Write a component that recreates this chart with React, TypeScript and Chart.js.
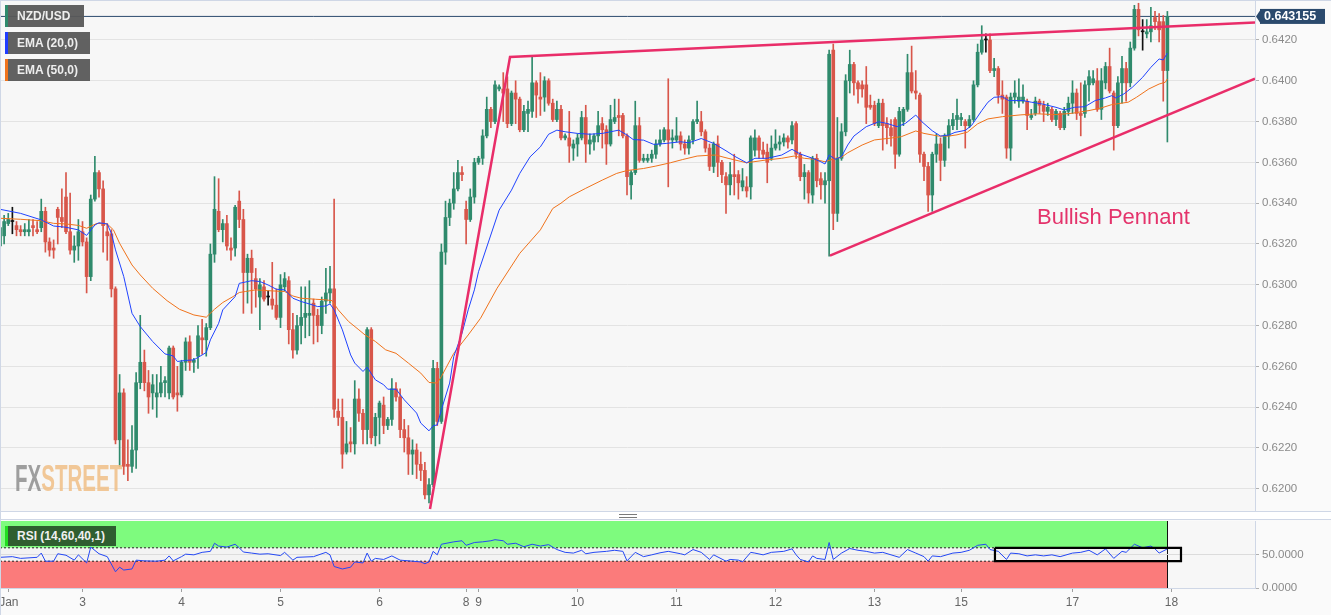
import React, { useEffect, useRef } from "react";
import { Chart, registerables } from "chart.js";

Chart.register(...registerables);

// ---------- candle data (hourly NZD/USD) ----------
const candleOpen = [
  0.6319,0.6324,0.6330,0.6331,0.6329,0.6327,0.6326,0.6326,0.6329,0.6327,
  0.6328,0.6336,0.6321,0.6318,0.6337,0.6333,0.6343,0.6326,0.6317,0.6319,
  0.6326,0.6321,0.6304,0.6342,0.6355,0.6347,0.6326,0.6325,0.6298,0.6224,
  0.6247,0.6212,0.6211,0.6219,0.6252,0.6262,0.6252,0.6247,0.6245,0.6247,
  0.6252,0.6247,0.6269,0.6247,0.6246,0.6262,0.6272,0.6262,0.6265,0.6274,
  0.6273,0.6279,0.6315,0.6336,0.6327,0.6330,0.6318,0.6318,0.6341,0.6332,
  0.6306,0.6313,0.6303,0.6294,0.6299,0.6294,0.6293,0.6290,0.6284,0.6299,
  0.6302,0.6278,0.6268,0.6280,0.6284,0.6285,0.6291,0.6285,0.6280,0.6292,
  0.6296,0.6298,0.6238,0.6235,0.6218,0.6223,0.6222,0.6244,0.6237,0.6229,
  0.6278,0.6226,0.6235,0.6241,0.6231,0.6234,0.6249,0.6245,0.6229,0.6225,
  0.6217,0.6219,0.6212,0.6209,0.6197,0.6202,0.6259,0.6233,0.6316,0.6333,
  0.6340,0.6347,0.6355,0.6337,0.6332,0.6343,0.6360,0.6362,0.6373,0.6386,
  0.6380,0.6396,0.6396,0.6396,0.6379,0.6394,0.6391,0.6376,0.6384,0.6385,
  0.6399,0.6392,0.6392,0.6400,0.6389,0.6381,0.6386,0.6372,0.6372,0.6367,
  0.6369,0.6372,0.6382,0.6369,0.6370,0.6373,0.6379,0.6376,0.6369,0.6380,
  0.6383,0.6383,0.6373,0.6349,0.6355,0.6378,0.6361,0.6361,0.6362,0.6364,
  0.6369,0.6371,0.6376,0.6371,0.6371,0.6373,0.6369,0.6367,0.6371,0.6380,
  0.6380,0.6375,0.6367,0.6358,0.6369,0.6360,0.6353,0.6349,0.6354,0.6354,
  0.6348,0.6348,0.6348,0.6366,0.6372,0.6366,0.6365,0.6362,0.6367,0.6369,
  0.6370,0.6372,0.6371,0.6379,0.6364,0.6353,0.6355,0.6344,0.6362,0.6352,
  0.6349,0.6351,0.6415,0.6335,0.6362,0.6375,0.6400,0.6408,0.6399,0.6398,
  0.6398,0.6388,0.6388,0.6378,0.6389,0.6379,0.6377,0.6381,0.6364,0.6380,
  0.6386,0.6404,0.6395,0.6393,0.6364,0.6358,0.6344,0.6364,0.6369,0.6361,
  0.6373,0.6378,0.6381,0.6381,0.6380,0.6378,0.6381,0.6398,0.6414,0.6420,
  0.6420,0.6405,0.6406,0.6393,0.6392,0.6367,0.6392,0.6390,0.6390,0.6390,
  0.6382,0.6384,0.6390,0.6388,0.6385,0.6386,0.6381,0.6384,0.6377,0.6385,
  0.6389,0.6394,0.6384,0.6384,0.6398,0.6399,0.6400,0.6386,0.6399,0.6407,
  0.6394,0.6378,0.6399,0.6406,0.6399,0.6416,0.6435,0.6424,0.6423,0.6424,
  0.6431,0.6429,0.6429,0.6405,
];
const candleHigh = [
  0.6330,0.6334,0.6335,0.6338,0.6331,0.6329,0.6330,0.6332,0.6332,0.6331,
  0.6342,0.6338,0.6323,0.6322,0.6338,0.6347,0.6355,0.6345,0.6324,0.6332,
  0.6331,0.6323,0.6344,0.6363,0.6356,0.6351,0.6330,0.6327,0.6299,0.6256,
  0.6249,0.6224,0.6231,0.6257,0.6285,0.6268,0.6258,0.6256,0.6256,0.6260,
  0.6255,0.6270,0.6270,0.6260,0.6263,0.6274,0.6275,0.6264,0.6280,0.6283,
  0.6281,0.6320,0.6353,0.6352,0.6332,0.6334,0.6323,0.6339,0.6346,0.6337,
  0.6315,0.6317,0.6308,0.6303,0.6302,0.6297,0.6311,0.6298,0.6305,0.6306,
  0.6304,0.6286,0.6285,0.6299,0.6299,0.6302,0.6293,0.6288,0.6294,0.6308,
  0.6309,0.6342,0.6244,0.6244,0.6233,0.6230,0.6253,0.6249,0.6239,0.6279,
  0.6279,0.6237,0.6243,0.6245,0.6235,0.6254,0.6252,0.6249,0.6234,0.6231,
  0.6224,0.6222,0.6218,0.6213,0.6205,0.6263,0.6262,0.6320,0.6341,0.6342,
  0.6355,0.6361,0.6358,0.6341,0.6347,0.6362,0.6363,0.6376,0.6392,0.6387,
  0.6400,0.6398,0.6404,0.6402,0.6395,0.6400,0.6392,0.6388,0.6390,0.6412,
  0.6400,0.6404,0.6402,0.6401,0.6391,0.6390,0.6388,0.6374,0.6385,0.6371,
  0.6374,0.6385,0.6388,0.6374,0.6374,0.6385,0.6382,0.6378,0.6388,0.6391,
  0.6391,0.6384,0.6374,0.6356,0.6390,0.6382,0.6364,0.6364,0.6366,0.6371,
  0.6376,0.6377,0.6401,0.6376,0.6382,0.6375,0.6371,0.6373,0.6381,0.6390,
  0.6385,0.6376,0.6369,0.6370,0.6373,0.6361,0.6355,0.6360,0.6364,0.6356,
  0.6357,0.6353,0.6373,0.6376,0.6373,0.6370,0.6369,0.6373,0.6376,0.6373,
  0.6374,0.6373,0.6380,0.6380,0.6365,0.6359,0.6356,0.6363,0.6364,0.6355,
  0.6355,0.6415,0.6418,0.6382,0.6379,0.6403,0.6415,0.6409,0.6400,0.6400,
  0.6407,0.6393,0.6390,0.6391,0.6391,0.6382,0.6381,0.6382,0.6387,0.6387,
  0.6413,0.6417,0.6405,0.6394,0.6365,0.6360,0.6365,0.6374,0.6372,0.6374,
  0.6381,0.6384,0.6391,0.6384,0.6381,0.6383,0.6400,0.6418,0.6427,0.6423,
  0.6423,0.6411,0.6407,0.6400,0.6393,0.6394,0.6400,0.6401,0.6398,0.6391,
  0.6386,0.6392,0.6391,0.6390,0.6389,0.6387,0.6386,0.6385,0.6387,0.6392,
  0.6400,0.6396,0.6399,0.6400,0.6405,0.6405,0.6406,0.6406,0.6409,0.6416,
  0.6395,0.6402,0.6412,0.6409,0.6419,0.6437,0.6438,0.6430,0.6430,0.6436,
  0.6434,0.6433,0.6432,0.6434,
];
const candleLow = [
  0.6318,0.6320,0.6329,0.6325,0.6324,0.6324,0.6324,0.6324,0.6324,0.6325,
  0.6326,0.6316,0.6314,0.6313,0.6320,0.6328,0.6325,0.6315,0.6311,0.6312,
  0.6319,0.6296,0.6302,0.6341,0.6343,0.6316,0.6312,0.6294,0.6222,0.6211,
  0.6207,0.6204,0.6208,0.6210,0.6249,0.6248,0.6237,0.6239,0.6235,0.6245,
  0.6245,0.6244,0.6244,0.6238,0.6245,0.6258,0.6258,0.6257,0.6259,0.6266,
  0.6265,0.6278,0.6311,0.6326,0.6321,0.6317,0.6312,0.6314,0.6328,0.6286,
  0.6291,0.6286,0.6289,0.6278,0.6292,0.6290,0.6288,0.6283,0.6279,0.6297,
  0.6271,0.6264,0.6266,0.6271,0.6274,0.6275,0.6271,0.6272,0.6276,0.6286,
  0.6291,0.6235,0.6231,0.6210,0.6217,0.6218,0.6217,0.6233,0.6222,0.6222,
  0.6222,0.6221,0.6222,0.6227,0.6229,0.6231,0.6243,0.6225,0.6218,0.6207,
  0.6207,0.6205,0.6204,0.6195,0.6193,0.6201,0.6231,0.6232,0.6310,0.6329,
  0.6337,0.6346,0.6351,0.6320,0.6331,0.6340,0.6359,0.6359,0.6372,0.6377,
  0.6379,0.6395,0.6380,0.6377,0.6378,0.6379,0.6375,0.6375,0.6375,0.6382,
  0.6382,0.6383,0.6385,0.6388,0.6380,0.6380,0.6371,0.6371,0.6360,0.6361,
  0.6363,0.6371,0.6360,0.6364,0.6366,0.6370,0.6367,0.6359,0.6368,0.6379,
  0.6373,0.6372,0.6344,0.6342,0.6354,0.6360,0.6360,0.6360,0.6360,0.6362,
  0.6368,0.6370,0.6348,0.6367,0.6370,0.6366,0.6364,0.6364,0.6369,0.6379,
  0.6373,0.6365,0.6356,0.6355,0.6353,0.6350,0.6335,0.6344,0.6344,0.6342,
  0.6346,0.6343,0.6342,0.6363,0.6362,0.6362,0.6350,0.6361,0.6366,0.6366,
  0.6368,0.6367,0.6369,0.6362,0.6351,0.6342,0.6340,0.6340,0.6348,0.6342,
  0.6340,0.6314,0.6327,0.6331,0.6361,0.6373,0.6394,0.6393,0.6389,0.6392,
  0.6379,0.6386,0.6378,0.6377,0.6366,0.6369,0.6368,0.6357,0.6363,0.6378,
  0.6385,0.6394,0.6391,0.6360,0.6351,0.6336,0.6336,0.6360,0.6351,0.6358,
  0.6367,0.6376,0.6376,0.6378,0.6367,0.6377,0.6380,0.6397,0.6413,0.6414,
  0.6404,0.6402,0.6389,0.6384,0.6362,0.6361,0.6389,0.6387,0.6389,0.6376,
  0.6381,0.6383,0.6384,0.6380,0.6383,0.6380,0.6378,0.6376,0.6376,0.6383,
  0.6384,0.6381,0.6373,0.6382,0.6390,0.6398,0.6385,0.6381,0.6396,0.6394,
  0.6366,0.6377,0.6389,0.6390,0.6397,0.6415,0.6422,0.6415,0.6421,0.6419,
  0.6425,0.6419,0.6390,0.6370,
];
const candleClose = [
  0.6328,0.6331,0.6332,0.6331,0.6327,0.6326,0.6327,0.6327,0.6328,0.6326,
  0.6336,0.6321,0.6317,0.6317,0.6333,0.6331,0.6326,0.6317,0.6319,0.6326,
  0.6321,0.6304,0.6342,0.6355,0.6347,0.6329,0.6324,0.6298,0.6224,0.6247,
  0.6211,0.6211,0.6219,0.6252,0.6262,0.6252,0.6245,0.6251,0.6247,0.6252,
  0.6253,0.6269,0.6245,0.6246,0.6262,0.6272,0.6262,0.6263,0.6275,0.6273,
  0.6279,0.6315,0.6337,0.6327,0.6330,0.6319,0.6317,0.6338,0.6332,0.6306,
  0.6313,0.6306,0.6298,0.6300,0.6293,0.6294,0.6290,0.6284,0.6300,0.6303,
  0.6278,0.6268,0.6280,0.6284,0.6286,0.6286,0.6285,0.6280,0.6292,0.6296,
  0.6298,0.6239,0.6235,0.6217,0.6222,0.6222,0.6244,0.6237,0.6229,0.6278,
  0.6225,0.6235,0.6242,0.6231,0.6234,0.6249,0.6245,0.6229,0.6225,0.6217,
  0.6219,0.6212,0.6209,0.6197,0.6202,0.6259,0.6233,0.6316,0.6333,0.6340,
  0.6347,0.6355,0.6354,0.6332,0.6343,0.6360,0.6362,0.6373,0.6386,0.6380,
  0.6398,0.6397,0.6394,0.6379,0.6394,0.6391,0.6376,0.6385,0.6386,0.6399,
  0.6393,0.6391,0.6400,0.6389,0.6381,0.6386,0.6372,0.6373,0.6368,0.6369,
  0.6372,0.6382,0.6369,0.6371,0.6373,0.6378,0.6376,0.6369,0.6381,0.6382,
  0.6382,0.6373,0.6353,0.6355,0.6378,0.6361,0.6362,0.6362,0.6364,0.6369,
  0.6371,0.6376,0.6371,0.6372,0.6373,0.6369,0.6367,0.6371,0.6380,0.6381,
  0.6375,0.6367,0.6358,0.6369,0.6360,0.6354,0.6349,0.6354,0.6353,0.6350,
  0.6351,0.6346,0.6372,0.6372,0.6366,0.6364,0.6360,0.6367,0.6369,0.6370,
  0.6372,0.6370,0.6378,0.6364,0.6353,0.6355,0.6345,0.6362,0.6351,0.6349,
  0.6351,0.6413,0.6335,0.6362,0.6375,0.6400,0.6408,0.6399,0.6396,0.6396,
  0.6387,0.6387,0.6379,0.6389,0.6378,0.6377,0.6373,0.6364,0.6385,0.6386,
  0.6404,0.6395,0.6394,0.6364,0.6358,0.6344,0.6364,0.6369,0.6361,0.6373,
  0.6378,0.6381,0.6383,0.6382,0.6378,0.6381,0.6398,0.6414,0.6420,0.6420,
  0.6405,0.6406,0.6393,0.6391,0.6367,0.6392,0.6394,0.6392,0.6392,0.6383,
  0.6383,0.6390,0.6388,0.6385,0.6387,0.6381,0.6385,0.6377,0.6385,0.6389,
  0.6394,0.6384,0.6383,0.6398,0.6402,0.6401,0.6386,0.6400,0.6407,0.6395,
  0.6378,0.6399,0.6406,0.6399,0.6416,0.6435,0.6425,0.6424,0.6424,0.6427,
  0.6429,0.6425,0.6405,0.643155,
];

// ---------- moving averages (sampled) ----------
const ema20Idx = [0,5,10,13,16,19,21,23,24,26,27,28,30,32,34,37,40,42,43,45,47,50,51,53,54,57,58,61,63,65,67,69,71,73,75,77,79,80,81,83,85,86,88,89,91,93,94,96,98,101,102,104,105,106,107,109,110,112,113.5,115,116,121,124,126,128.5,131,133,135,137,140,143,146,150,152,153.5,156,158.5,161.5,165,167,170,171,173,176,178,181,183,186,189.5,192,194,197,199,200,201,202.5,204,205.5,207,210,213,215,217.5,219.5,222,223.5,226,228,230,231.5,234,235.5,238,239.5,241,243,244.5,248,250,252.5,256,258,260.5,263,265.5,268,269.5,270.5,272.5,274.5,277,279,281,282,283];
const ema20Val = [0.63370,0.63350,0.63318,0.63288,0.63282,0.63269,0.63242,0.63293,0.63304,0.63298,0.63252,0.63171,0.63040,0.62860,0.62795,0.62722,0.62661,0.62651,0.62624,0.62629,0.62632,0.62668,0.62730,0.62811,0.62877,0.62942,0.63007,0.63020,0.63016,0.62999,0.62978,0.62975,0.62934,0.62918,0.62906,0.62893,0.62896,0.62906,0.62877,0.62779,0.62656,0.62616,0.62575,0.62596,0.62534,0.62510,0.62488,0.62488,0.62436,0.62371,0.62322,0.62284,0.62309,0.62313,0.62387,0.62518,0.62648,0.62762,0.62877,0.62975,0.63064,0.63366,0.63464,0.63546,0.63627,0.63676,0.63738,0.63758,0.63750,0.63742,0.63738,0.63742,0.63758,0.63734,0.63712,0.63709,0.63688,0.63693,0.63701,0.63696,0.63717,0.63709,0.63693,0.63657,0.63631,0.63598,0.63620,0.63620,0.63636,0.63664,0.63641,0.63620,0.63603,0.63592,0.63636,0.63615,0.63628,0.63685,0.63729,0.63775,0.63799,0.63791,0.63775,0.63791,0.63832,0.63799,0.63755,0.63729,0.63734,0.63747,0.63757,0.63780,0.63854,0.63895,0.63919,0.63922,0.63903,0.63903,0.63895,0.63887,0.63870,0.63857,0.63870,0.63873,0.63903,0.63916,0.63927,0.63916,0.63936,0.63968,0.64017,0.64066,0.64107,0.64102,0.64136];
const ema50Idx = [0,5,10,13,16,19,21,23.5,26,27.5,29,32,34,37,40.5,43.5,47,50,52,54,56.5,58,59.5,62,65,69,71,73,76.5,79,80.5,82,84.5,87,88.5,91,93.5,96,99,102,104,106,107,110,113.5,116.5,120.5,126,131,134,136,138,142,146,149.5,152,156,159,162.5,165.5,169,172,173.5,176.5,181,185.5,189.5,192.5,195,197.5,200,202.5,204,205.5,209,212,215.5,218.5,222,224,227.5,230,232,234.5,237,239.5,243,247.5,251.5,256,260,264,267,269.5,273.5,275.5,278.5,281,282.5,283];
const ema50Val = [0.63326,0.63321,0.63314,0.63301,0.63298,0.63291,0.63277,0.63301,0.63298,0.63269,0.63203,0.63097,0.63048,0.62983,0.62922,0.62880,0.62852,0.62841,0.62880,0.62913,0.62942,0.62962,0.62967,0.62975,0.62971,0.62967,0.62945,0.62934,0.62929,0.62926,0.62922,0.62877,0.62820,0.62779,0.62754,0.62722,0.62681,0.62664,0.62616,0.62567,0.62521,0.62518,0.62550,0.62664,0.62754,0.62836,0.62983,0.63154,0.63269,0.63374,0.63400,0.63431,0.63473,0.63513,0.63546,0.63560,0.63570,0.63582,0.63598,0.63614,0.63631,0.63635,0.63636,0.63620,0.63598,0.63611,0.63620,0.63631,0.63620,0.63615,0.63603,0.63620,0.63625,0.63647,0.63685,0.63710,0.63718,0.63726,0.63754,0.63742,0.63729,0.63729,0.63735,0.63748,0.63789,0.63813,0.63824,0.63833,0.63838,0.63834,0.63841,0.63854,0.63867,0.63883,0.63895,0.63919,0.63960,0.63984,0.63993,0.64009];

// ---------- RSI (14) ----------
const rsiIdx = [0,3,5,9,10,11,13,14,16,18,19,21,22,24,26,28,29,30,32,33,35,38,40,41,42,44,45,47,49,51,52,53,55,57,58,59,61,63,65,68,69,71,72,76,79,80,81,83,85,86,88,89,90,91,93,95,97,100,102,103,104,105,106,107,110,112,113,115,117,119,120,122,123,125,127,129,131,133,135,137,139,141,142,144,147,149,151,152,154,156,158,160,162,165,166,168,170,172,173,176,177,179,180,182,183,185,187,190,192,193,194,196,197,198,200,201,202,204,206,208,210,212,214,216,218,220,222,224,225,226,228,231,233,235,237,239,240,242,244,245,247,249,251,253,255,257,260,262,264,266,268,270,272,273,275,277,279,280,281,283];
const rsiVal = [45.8,46.8,44.2,45.8,52.1,40.0,40.0,51.1,48.9,41.6,49.5,37.4,61.1,51.1,46.8,24.2,31.1,26.8,28.4,41.6,40.5,40.0,41.6,47.9,40.5,46.8,50.5,49.5,53.2,54.7,66.8,62.6,61.1,65.3,60.0,53.7,52.1,50.5,51.1,48.4,53.2,41.6,45.8,46.8,53.2,49.5,32.1,28.4,31.1,38.9,37.4,52.1,40.0,44.2,42.6,47.9,41.6,40.0,38.9,36.3,38.9,54.7,49.5,65.3,68.9,70.5,63.7,67.9,68.9,70.5,72.1,70.5,65.3,66.8,61.6,65.3,62.6,64.7,57.4,53.2,52.1,56.3,51.1,53.2,54.7,56.3,54.7,40.5,53.2,46.8,49.5,52.5,54.7,51.1,49.5,57.4,53.2,42.6,49.5,40.0,42.6,41.6,38.9,53.2,52.1,49.5,53.2,54.7,58.4,49.5,42.6,38.9,47.9,44.2,42.6,67.9,42.6,52.1,58.9,56.3,54.7,52.1,53.2,49.5,45.8,57.4,52.1,46.8,40.0,47.9,46.8,52.1,53.2,56.3,63.7,65.3,57.4,54.7,42.6,52.1,51.1,47.9,49.5,47.9,49.5,46.8,52.1,53.2,56.3,49.5,58.4,44.2,54.7,53.2,65.3,60.0,62.6,58.4,52.1,58.4];
const rsiLevels = [60, 40];
const rsiBoxIdx = [241.2, 286.3, 286.3, 241.2, 241.2];
const rsiBoxVal = [60, 60, 40, 40, 60];

// ---------- drawn pattern lines ----------
const pennantUpperIdx = [104.24, 123.64, 304.24];
const pennantUpperVal = [0.61901, 0.64117, 0.64286];
const pennantLowerIdx = [201.2, 304.24];
const pennantLowerVal = [0.63143, 0.64011];

// ---------- axes ----------
const priceTicks = [0.6200,0.6220,0.6240,0.6260,0.6280,0.6300,0.6320,0.6340,0.6360,0.6380,0.6400,0.6420];
const rsiTicks = [0, 50];
const dayTickIdx = [2.15, 20, 44, 68, 92, 113, 116, 140, 164, 188, 212, 233, 260, 284];
const dayTickLabels = ["Jan","3","4","5","6","8","9","10","11","12","13","15","17","18"];

const X_MAX = 304.24;
const Y_MIN = 0.61891;
const Y_MAX = 0.64396;
const GREEN = "#2f8a6c";
const RED = "#d8564a";
const PINK = "#e92d69";
const FONT = "'Liberation Sans', Arial, sans-serif";

export default function App() {
  const mainRef = useRef<HTMLCanvasElement>(null);
  const rsiRef = useRef<HTMLCanvasElement>(null);

  useEffect(() => {
    document.body.style.margin = "0";
    Chart.defaults.font.family = FONT;
    const lastIdx = candleClose.length - 1;
    const lastPrice = candleClose[lastIdx];
    const colors = candleClose.map((c, i) =>
      c > candleOpen[i] ? GREEN : c < candleOpen[i] ? RED : "#111111"
    );

    const bgPlugin = {
      id: "plotBg",
      beforeDraw(chart: any) {
        const { ctx, chartArea } = chart;
        ctx.save();
        ctx.fillStyle = "#f7f7f7";
        ctx.fillRect(chartArea.left, chartArea.top, chartArea.right - chartArea.left, chartArea.bottom - chartArea.top);
        ctx.restore();
      },
    };

    const tagPlugin = {
      id: "priceTag",
      afterDraw(chart: any) {
        const { ctx, chartArea } = chart;
        const y = chart.scales.y.getPixelForValue(lastPrice);
        const x0 = chartArea.right;
        ctx.save();
        ctx.fillStyle = "#2b4a6d";
        ctx.beginPath();
        ctx.moveTo(x0 + 1, y);
        ctx.lineTo(x0 + 6, y - 7.5);
        ctx.lineTo(x0 + 6, y + 7.5);
        ctx.closePath();
        ctx.fill();
        ctx.fillRect(x0 + 5, y - 7.5, 65, 15);
        ctx.fillStyle = "#ffffff";
        ctx.font = "bold 12.5px " + FONT;
        ctx.textBaseline = "middle";
        ctx.fillText(lastPrice.toFixed(6), x0 + 9, y + 0.5);
        ctx.restore();
      },
    };

    const lineDs = (xs: number[], ys: number[], color: string, width: number, order: number, extra: any = {}) => ({
      type: "line",
      data: xs.map((x, k) => ({ x, y: ys[k] })),
      borderColor: color,
      borderWidth: width,
      pointRadius: 0,
      tension: 0,
      fill: false,
      order,
      ...extra,
    });

    const main = new Chart(mainRef.current as HTMLCanvasElement, {
      type: "bar",
      data: {
        datasets: [
          lineDs(pennantUpperIdx, pennantUpperVal, PINK, 2.5, 0),
          lineDs(pennantLowerIdx, pennantLowerVal, PINK, 2.5, 0),
          lineDs(ema20Idx, ema20Val, "#2043ff", 1, 1),
          lineDs(ema50Idx, ema50Val, "#f0731c", 1, 1),
          {
            type: "bar",
            data: candleOpen.map((o, i) => ({ x: i, y: [o, candleClose[i]] })),
            backgroundColor: colors,
            barThickness: 3,
            minBarLength: 1,
            grouped: false,
            order: 3,
          },
          {
            type: "bar",
            data: candleLow.map((l, i) => ({ x: i, y: [l, candleHigh[i]] })),
            backgroundColor: colors,
            barThickness: 1,
            grouped: false,
            order: 4,
          },
          lineDs([0, X_MAX], [lastPrice, lastPrice], "#2b4a6d", 1, 5),
        ] as any,
      },
      options: {
        responsive: false,
        animation: false,
        events: [],
        layout: { padding: 0, autoPadding: false },
        plugins: { legend: { display: false }, tooltip: { enabled: false } },
        scales: {
          x: { type: "linear", min: 0, max: X_MAX, display: false, offset: false },
          y: {
            type: "linear",
            position: "right",
            min: Y_MIN,
            max: Y_MAX,
            afterBuildTicks: (axis: any) => {
              axis.ticks = priceTicks.map((v) => ({ value: v }));
            },
            afterFit: (axis: any) => {
              axis.width = 76;
              axis.paddingTop = 0;
              axis.paddingBottom = 0;
            },
            ticks: {
              color: "#8a8a8a",
              font: { size: 11.5 },
              padding: 3,
              callback: (v: any) => Number(v).toFixed(4),
            },
            grid: { color: "#e3e3e3", tickColor: "#b0b0b0", tickLength: 4 },
            border: { display: true, color: "#cfd7e6" },
          },
        },
      } as any,
      plugins: [bgPlugin, tagPlugin],
    });

    const bandPlugin = {
      id: "rsiBands",
      beforeDraw(chart: any) {
        const { ctx, chartArea } = chart;
        const xs = chart.scales.x;
        const ys = chart.scales.y;
        const L = chartArea.left;
        const R = xs.getPixelForValue(lastIdx);
        ctx.save();
        ctx.fillStyle = "#f7f7f7";
        ctx.fillRect(L, chartArea.top, chartArea.right - L, chartArea.bottom - chartArea.top);
        const band = (a: number, b: number, c: string) => {
          const y1 = ys.getPixelForValue(a);
          const y2 = ys.getPixelForValue(b);
          ctx.fillStyle = c;
          ctx.fillRect(L, y1, R - L, y2 - y1);
        };
        band(100, rsiLevels[0], "#7efb7e");
        band(rsiLevels[0], rsiLevels[1], "#f3f3f3");
        band(rsiLevels[1], 0, "#fb7b7b");
        ctx.fillStyle = "#111";
        ctx.fillRect(Math.round(R), chartArea.top, 1, chartArea.bottom - chartArea.top);
        ctx.fillRect(L, ys.getPixelForValue(rsiLevels[1]), 1, chartArea.bottom - ys.getPixelForValue(rsiLevels[1]));
        ctx.restore();
      },
    };

    const rsi = new Chart(rsiRef.current as HTMLCanvasElement, {
      type: "line",
      data: {
        datasets: [
          lineDs(rsiBoxIdx, rsiBoxVal, "#000000", 2.2, 0),
          lineDs(rsiIdx, rsiVal, "#2448f5", 1, 1),
          lineDs([0, lastIdx], [rsiLevels[0], rsiLevels[0]], "#222", 1, 2, { borderDash: [2, 2] }),
          lineDs([0, lastIdx], [rsiLevels[1], rsiLevels[1]], "#222", 1, 2, { borderDash: [2, 2] }),
        ] as any,
      },
      options: {
        responsive: false,
        animation: false,
        events: [],
        layout: { padding: { top: 2, left: 0, right: 0, bottom: 0 }, autoPadding: false },
        plugins: { legend: { display: false }, tooltip: { enabled: false } },
        scales: {
          x: {
            type: "linear",
            min: 0,
            max: X_MAX,
            offset: false,
            afterBuildTicks: (axis: any) => {
              axis.ticks = dayTickIdx.map((v) => ({ value: v }));
            },
            afterFit: (axis: any) => {
              axis.height = 27;
              axis.paddingLeft = 0;
              axis.paddingRight = 0;
            },
            ticks: {
              autoSkip: false,
              maxRotation: 0,
              color: "#666666",
              font: { size: 12 },
              padding: 3,
              callback: (_v: any, i: number) => dayTickLabels[i],
            },
            grid: { drawOnChartArea: false, tickLength: 4, tickColor: "#a0a0a0" },
            border: { display: true, color: "#cfd7e6" },
          },
          y: {
            type: "linear",
            position: "right",
            min: 0,
            max: 100,
            afterBuildTicks: (axis: any) => {
              axis.ticks = rsiTicks.map((v) => ({ value: v }));
            },
            afterFit: (axis: any) => {
              axis.width = 76;
              axis.paddingTop = 0;
              axis.paddingBottom = 0;
            },
            ticks: {
              color: "#8a8a8a",
              font: { size: 11.5 },
              padding: 3,
              callback: (v: any) => Number(v).toFixed(4),
            },
            grid: { color: "#dcdcdc", tickColor: "#b0b0b0", tickLength: 4 },
            border: { display: true, color: "#cfd7e6" },
          },
        },
      } as any,
      plugins: [bandPlugin],
    });

    return () => {
      main.destroy();
      rsi.destroy();
    };
  }, []);

  const legendBox = (top: number, width: number, stripe: string, text: string) => (
    <div
      style={{
        position: "absolute",
        left: 5,
        top,
        width,
        height: 22,
        background: "rgba(88,88,88,0.95)",
        borderLeft: `3px solid ${stripe}`,
        boxSizing: "border-box",
        color: "#eeeeee",
        fontSize: 12,
        fontWeight: 700,
        lineHeight: "22px",
        paddingLeft: 9,
        whiteSpace: "nowrap",
      }}
    >
      {text}
    </div>
  );

  return (
    <div
      style={{
        position: "fixed",
        left: 0,
        top: 0,
        width: 1331,
        height: 615,
        background: "#fafafa",
        overflow: "hidden",
        fontFamily: FONT,
      }}
    >
      <canvas ref={mainRef} width={1331} height={511} style={{ position: "absolute", left: 0, top: 0, width: 1331, height: 511 }} />
      <div
        style={{
          position: "absolute",
          left: 0,
          top: 511,
          width: 1331,
          height: 9,
          background: "#ffffff",
          borderTop: "1px solid #cfd7e6",
          borderBottom: "1px solid #cfd7e6",
          boxSizing: "border-box",
        }}
      />
      <div
        style={{
          position: "absolute",
          left: 619,
          top: 514,
          width: 18,
          height: 2,
          borderTop: "1px solid #7a7a7a",
          borderBottom: "1px solid #7a7a7a",
        }}
      />
      <canvas ref={rsiRef} width={1331} height={96} style={{ position: "absolute", left: 0, top: 519, width: 1331, height: 96 }} />
      <div style={{ position: "absolute", left: 0, top: 0, width: 1331, height: 1, background: "#cfd7e6" }} />
      <div style={{ position: "absolute", left: 0, top: 0, width: 1, height: 615, background: "#cfd7e6" }} />

      {legendBox(5, 79, "#2f8a6c", "NZD/USD")}
      {legendBox(32, 85, "#1f3cff", "EMA (20,0)")}
      {legendBox(59, 85, "#f0731c", "EMA (50,0)")}

      <div
        style={{
          position: "absolute",
          left: 5,
          top: 526,
          width: 111,
          height: 20,
          background: "#2f5e30",
          borderLeft: "3px solid #22dd22",
          boxSizing: "border-box",
          color: "#f0f0f0",
          fontSize: 12,
          fontWeight: 700,
          lineHeight: "20px",
          paddingLeft: 9,
          whiteSpace: "nowrap",
        }}
      >
        RSI (14,60,40,1)
      </div>

      <div
        style={{
          position: "absolute",
          left: 15,
          top: 461,
          fontSize: 36,
          fontWeight: 700,
          lineHeight: "36px",
          whiteSpace: "nowrap",
          transform: "scaleX(0.57)",
          transformOrigin: "0 0",
          opacity: 0.85,
        }}
      >
        <span style={{ color: "#8f8f8f" }}>FX</span>
        <span style={{ color: "#f0bf86" }}>STREET</span>
      </div>

      <div
        style={{
          position: "absolute",
          left: 1037,
          top: 206,
          fontSize: 22,
          lineHeight: "22px",
          color: "#e4336b",
          whiteSpace: "nowrap",
        }}
      >
        Bullish Pennant
      </div>
    </div>
  );
}
